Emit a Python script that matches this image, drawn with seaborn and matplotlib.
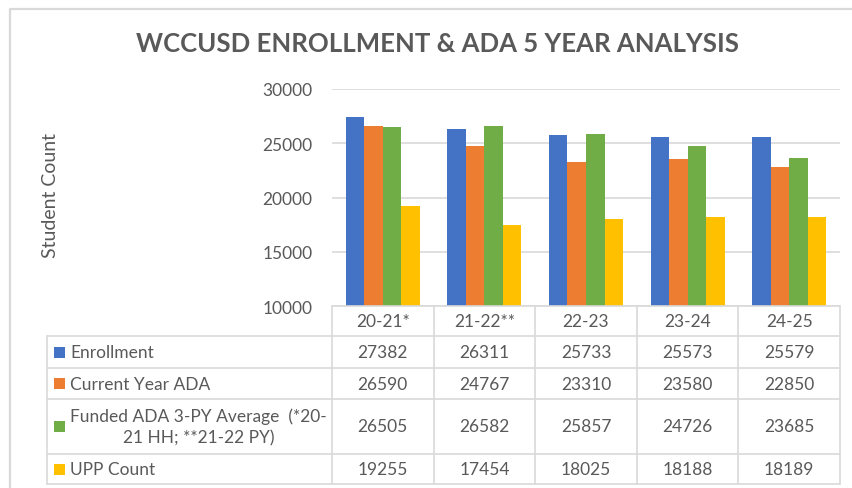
import matplotlib
matplotlib.use("Agg")
import matplotlib.pyplot as plt
import seaborn as sns
import pandas as pd
from matplotlib.patches import Rectangle
from matplotlib.lines import Line2D

# ---------------- data ----------------
categories = ["20-21*", "21-22**", "22-23", "23-24", "24-25"]
series_names = ["Enrollment", "Current Year ADA",
                "Funded ADA 3-PY Average  (*20-\n21 HH; **21-22 PY)", "UPP Count"]
enrollment = [27382, 26311, 25733, 25573, 25579]
current_ada = [26590, 24767, 23310, 23580, 22850]
funded_ada = [26505, 26582, 25857, 24726, 23685]
upp_count = [19255, 17454, 18025, 18188, 18189]
yticks = [10000, 15000, 20000, 25000, 30000]
title = "WCCUSD ENROLLMENT & ADA 5 YEAR ANALYSIS"
ylabel = "Student Count"

colors = ["#4472C4", "#ED7D31", "#70AD47", "#FFC000"]
TXT = "#595959"
LINE = "#d9d9d9"

W, H = 852, 489
sns.set_theme(style="white")
plt.rcParams['font.family'] = ['Lato', 'DejaVu Sans']

fig = plt.figure(figsize=(W / 100, H / 100), dpi=100)
fig.patch.set_facecolor("white")
FS = 12.5


def fx(x):
    return x / W


def fy(y):
    return 1 - y / H


x0, x1, ytop, ybot = 332, 840, 90, 307
ax = fig.add_axes([fx(x0), fy(ybot), (x1 - x0) / W, (ybot - ytop) / H])

all_series = [enrollment, current_ada, funded_ada, upp_count]
df = pd.DataFrame({
    "Year": categories * len(series_names),
    "Series": [s for s in series_names for _ in categories],
    "Value": [v for ser in all_series for v in ser],
})
sns.barplot(data=df, x="Year", y="Value", hue="Series", palette=colors,
            width=0.73, gap=0, ax=ax, legend=False, saturation=1,
            edgecolor="none", linewidth=0, errorbar=None)

ax.set_xlim(-0.5, len(categories) - 0.5)
ax.set_ylim(yticks[0], yticks[-1])
ax.set_yticks(yticks)
ax.set_yticklabels([str(t) for t in yticks], color=TXT, fontsize=FS)
ax.tick_params(axis="y", length=0, pad=14)
ax.set_xticks([])
ax.set_xlabel("")
ax.set_ylabel("")
ax.yaxis.grid(True, color=LINE, lw=1.2)
ax.set_axisbelow(True)
for s in ax.spines.values():
    s.set_visible(False)

# title, fitted to the reference width
t = fig.text(fx(437), fy(44), title, ha="center", va="center", fontsize=18,
             fontweight="bold", color=TXT)
renderer = fig.canvas.get_renderer()
for _ in range(3):
    w = t.get_window_extent(renderer).width
    t.set_fontsize(t.get_fontsize() * 603 / w)

fig.text(fx(50), fy(196), ylabel, ha="center", va="center", rotation=90,
         fontsize=14, color=TXT)

# outer frame
fig.add_artist(Line2D([fx(9.5), fx(9.5), fx(W)], [fy(H), fy(9.5), fy(9.5)],
                      transform=fig.transFigure, color=LINE, lw=1.6))

# data table
col_w = (x1 - x0) / len(categories)
col_edges = [x0 + i * col_w for i in range(len(categories) + 1)]
row_edges = [337, 369, 400, 455, 485]
tl = 47


def hline(y, xa, xb):
    fig.add_artist(Line2D([fx(xa), fx(xb)], [fy(y), fy(y)],
                          transform=fig.transFigure, color=LINE, lw=1.2))


def vline(x, ya, yb):
    fig.add_artist(Line2D([fx(x), fx(x)], [fy(ya), fy(yb)],
                          transform=fig.transFigure, color=LINE, lw=1.2))


hline(ybot, x0, x1)
for y in row_edges:
    hline(y, tl, x1)
vline(tl, row_edges[0], row_edges[-1])
for x in col_edges:
    vline(x, ybot, row_edges[-1])

for i, c in enumerate(categories):
    cx = x0 + (i + 0.5) * col_w
    fig.text(fx(cx), fy((ybot + row_edges[0]) / 2), c, ha="center",
             va="center", fontsize=FS, color=TXT)

for r, (name, ser) in enumerate(zip(series_names, all_series)):
    cy = (row_edges[r] + row_edges[r + 1]) / 2
    fig.add_artist(Rectangle((fx(54), fy(cy + 5.5)), 11 / W, 11 / H,
                             transform=fig.transFigure, color=colors[r], lw=0))
    fig.text(fx(70), fy(cy), name, ha="left", va="center", fontsize=FS,
             color=TXT, multialignment="center", linespacing=1.4)
    for i, v in enumerate(ser):
        cx = x0 + (i + 0.5) * col_w
        fig.text(fx(cx), fy(cy), str(v), ha="center", va="center",
                 fontsize=FS, color=TXT)

fig.savefig("out.png", dpi=100, facecolor="white")
